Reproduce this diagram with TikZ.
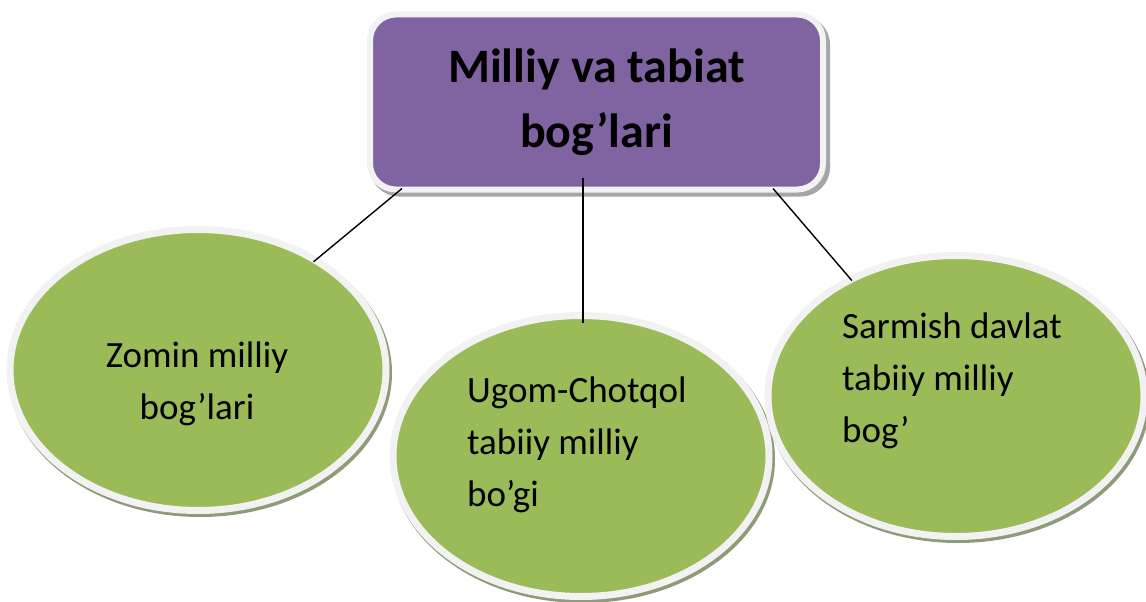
\documentclass[tikz,border=0pt]{standalone}
\usepackage{fontspec}
\setmainfont{Carlito}
\usetikzlibrary{shapes.geometric,calc}
\definecolor{boxpurple}{HTML}{8064A2}
\definecolor{ovalgreen}{HTML}{9BBB59}
\definecolor{rimwhite}{HTML}{F2F2F2}
\definecolor{boxshadow}{HTML}{A6A6A6}
\definecolor{ovalshadow}{HTML}{8E9B78}
\begin{document}
\begin{tikzpicture}[x=1pt,y=-1pt,
  oval/.style={ellipse, fill=ovalgreen, draw=rimwhite, line width=7pt,
    minimum width=376pt, minimum height=281pt, inner sep=0pt},
  ovalshade/.style={fill=ovalshadow},
  titlebox/.style={rectangle, rounded corners=26pt, fill=boxpurple, draw=rimwhite,
    line width=6pt, minimum width=453pt, minimum height=175pt, inner sep=0pt,
    font=\bfseries\fontsize{48}{65}\selectfont, align=center},
  ovaltext/.style={inner sep=0pt, font=\fontsize{37}{52}\selectfont},
  link/.style={draw=black, line width=1.4pt}]
\useasboundingbox (0,0) rectangle (1146,602);
% shadows
\fill[boxshadow, rounded corners=29pt] (370,15.5) rectangle (830,196.5);
\fill[ovalshade] (200,373) ellipse [x radius=192, y radius=144];
\fill[ovalshade] (583,459) ellipse [x radius=192, y radius=144];
\fill[ovalshade] (958,399) ellipse [x radius=192, y radius=144];
% nodes
\node[titlebox] (box) at (596.5,102) {Milliy va tabiat\\bog’lari};
\node[oval] (l) at (198,370) {};
\node[oval] (m) at (581,456) {};
\node[oval] (r) at (956,396) {};
% texts
\node[ovaltext, anchor=base] (lt) at (197,367)
  {\begin{tabular}[t]{@{}c@{}}Zomin milliy\\bog’lari\end{tabular}};
\node[ovaltext, anchor=base west] (mt) at (467,402)
  {\begin{tabular}[t]{@{}l@{}}Ugom-Chotqol\\tabiiy milliy\\bo’gi\end{tabular}};
\node[ovaltext, anchor=base west] (rt) at (842,338)
  {\begin{tabular}[t]{@{}l@{}}Sarmish davlat\\tabiiy milliy\\bog’\end{tabular}};
% connectors
\draw[link, shorten >=-6pt] ($(box.south west)+(35,-4)$) -- (l.43);
\draw[link] ($(box.south)+(-13.5,-15)$) -- ($(m.north)+(2,11)$);
\draw[link, shorten >=-5pt] ($(box.south east)+(-53,-4)$) -- (r.132);
\end{tikzpicture}
\end{document}
